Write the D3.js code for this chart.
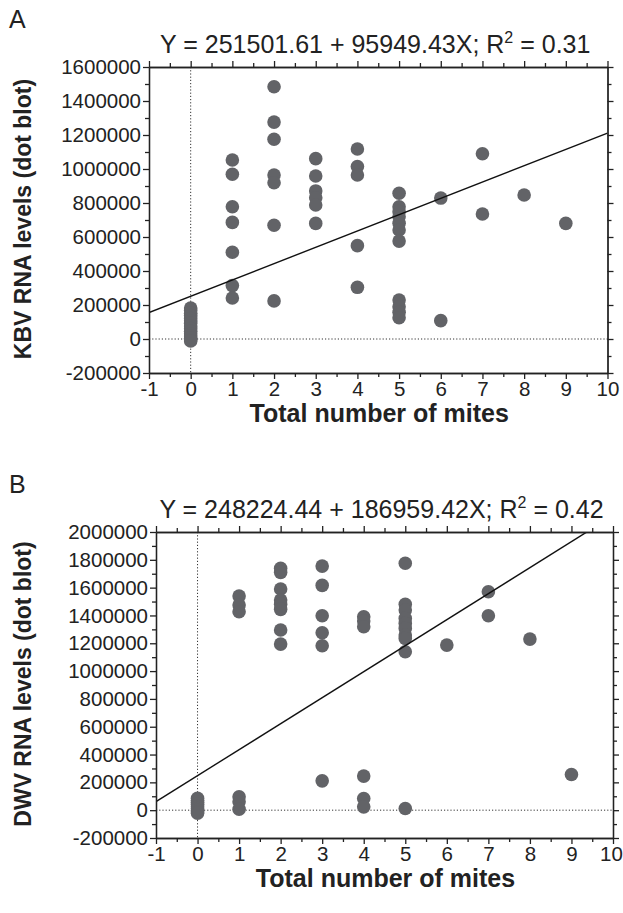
<!DOCTYPE html>
<meta charset="utf-8">
<style>
body { margin: 0; background: #fff; }
svg text { font-family: "Liberation Sans", Arial, sans-serif; fill: #222; }
.frame path, .frame line { stroke: #222; stroke-width: 1.3px; }
</style>
<body>
<script src="https://d3js.org/d3.v7.min.js"></script>
<script>

// panel A - KBV
var kbvMites  = [0,0,0,0,0,0,0,0,0,0,0,0,0,0,0,
                 1,1,1,1,1,1,1,
                 2,2,2,2,2,2,2,
                 3,3,3,3,3,3,
                 4,4,4,4,4,
                 5,5,5,5,5,5,5,5,5,5,5,
                 6,6, 7,7, 8, 9];
var kbvLevels = [182000,168000,152000,138000,121000,107000,92000,76000,61000,46000,31000,17000,5000,-4000,-12000,
                 1053000,969000,778000,686000,510000,314000,241000,
                 1484000,1276000,1175000,965000,919000,669000,224000,
                 1061000,959000,871000,831000,788000,680000,
                 1118000,1015000,965000,549000,304000,
                 857000,778000,749000,719000,681000,641000,576000,229000,190000,157000,125000,
                 829000,108000, 1090000,735000, 847000, 680000];

// panel B - DWV
var dwvMites  = [0,0,0,0,0,0,0,0,0,
                 1,1,1,1,1,1,
                 2,2,2,2,2,2,2,2,
                 3,3,3,3,3,3,
                 4,4,4,4,4,4,
                 5,5,5,5,5,5,5,5,5,5,
                 6, 7,7, 8, 9];
var dwvLevels = [86000,72000,57000,42000,27000,12000,0,-11000,-22000,
                 1540000,1475000,1427000,96000,60000,7000,
                 1739000,1710000,1590000,1511000,1480000,1444000,1295000,1194000,
                 1755000,1616000,1398000,1276000,1182000,211000,
                 1391000,1360000,1319000,245000,84000,24000,
                 1775000,1480000,1439000,1379000,1343000,1307000,1259000,1235000,1139000,12000,
                 1187000, 1570000,1398000, 1230000, 257000];

var xTicks = [-1,0,1,2,3,4,5,6,7,8,9,10];
var xMinor = [-0.5,0.5,1.5,2.5,3.5,4.5,5.5,6.5,7.5,8.5,9.5];
var kbvYTicks = [-200000,0,200000,400000,600000,800000,1000000,1200000,1400000,1600000];
var dwvYTicks = [-200000,0,200000,400000,600000,800000,1000000,1200000,1400000,1600000,1800000,2000000];

var intercepts = [251501.61, 248224.44];
var slopes = [95949.43, 186959.42];
var rSquared = ["0.31", "0.42"];
var panelLetters = ["A", "B"];
var yTitles = ["KBV RNA levels (dot blot)", "DWV RNA levels (dot blot)"];

var svg = d3.select("body").append("svg")
  .attr("width", 623)
  .attr("height", 913);

var panels = [
  {left: 149, right: 607.5, top: 67, bottom: 373, ymax: 1600000, mites: kbvMites, levels: kbvLevels, yTicks: kbvYTicks, offY: 0},
  {left: 156, right: 613, top: 532, bottom: 838, ymax: 2000000, mites: dwvMites, levels: dwvLevels, yTicks: dwvYTicks, offY: 465}
];

// plain hyphen for negatives, like the original
var plain = function(d) { return String(d); };

panels.forEach(function(p, i) {
  var x = d3.scaleLinear().domain([-1, 10]).range([p.left, p.right]);
  var y = d3.scaleLinear().domain([-200000, p.ymax]).range([p.bottom, p.top]);

  var yMinor = d3.range(-100000, p.ymax, 200000);

  var g = svg.append("g");

  // clip for the fit line
  g.append("clipPath").attr("id", "clip" + i)
    .append("rect")
    .attr("x", p.left).attr("y", p.top)
    .attr("width", p.right - p.left).attr("height", p.bottom - p.top);

  // dotted zero lines
  g.append("line")
    .attr("x1", x(0)).attr("x2", x(0))
    .attr("y1", p.top).attr("y2", p.bottom)
    .attr("stroke", "#333").attr("stroke-width", 1)
    .attr("stroke-dasharray", "1.2,2");
  g.append("line")
    .attr("x1", p.left).attr("x2", p.right)
    .attr("y1", y(0)).attr("y2", y(0))
    .attr("stroke", "#333").attr("stroke-width", 1)
    .attr("stroke-dasharray", "1.2,2");

  // points
  g.selectAll("circle.pt")
    .data(p.mites)
    .enter().append("circle")
    .attr("class", "pt")
    .attr("cx", function(d) { return x(d); })
    .attr("cy", function(d, j) { return y(p.levels[j]); })
    .attr("r", 6.8)
    .attr("fill", "#626367");

  // regression line
  g.append("line")
    .attr("clip-path", "url(#clip" + i + ")")
    .attr("x1", x(-1)).attr("y1", y(intercepts[i] - slopes[i]))
    .attr("x2", x(10)).attr("y2", y(intercepts[i] + slopes[i] * 10))
    .attr("stroke", "#111").attr("stroke-width", 1.4);

  // axes: bottom with labels
  var bottom = g.append("g").attr("class", "frame")
    .attr("transform", "translate(0," + p.bottom + ")")
    .call(d3.axisBottom(x).tickValues(xTicks).tickSize(6).tickPadding(2).tickSizeOuter(0).tickFormat(plain));
  bottom.selectAll("text").style("font-size", "20.5px");
  // keep the last label inside the page
  bottom.selectAll("text").filter(function(d) { return d == 10; })
    .attr("dx", -(Math.max(0, p.right + 11 - 622)) + "px");
  g.append("g").attr("class", "frame")
    .attr("transform", "translate(0," + p.bottom + ")")
    .call(d3.axisBottom(x).tickValues(xMinor).tickSize(4).tickFormat("").tickSizeOuter(0));

  // top
  g.append("g").attr("class", "frame")
    .attr("transform", "translate(0," + p.top + ")")
    .call(d3.axisTop(x).tickValues(xTicks).tickSize(6).tickFormat("").tickSizeOuter(0));
  g.append("g").attr("class", "frame")
    .attr("transform", "translate(0," + p.top + ")")
    .call(d3.axisTop(x).tickValues(xMinor).tickSize(4).tickFormat("").tickSizeOuter(0));

  // left with labels
  var left = g.append("g").attr("class", "frame")
    .attr("transform", "translate(" + p.left + ",0)")
    .call(d3.axisLeft(y).tickValues(p.yTicks).tickSize(6).tickPadding(2).tickSizeOuter(0).tickFormat(plain));
  left.selectAll("text").style("font-size", "20.5px");
  g.append("g").attr("class", "frame")
    .attr("transform", "translate(" + p.left + ",0)")
    .call(d3.axisLeft(y).tickValues(yMinor).tickSize(4).tickFormat("").tickSizeOuter(0));

  // right
  g.append("g").attr("class", "frame")
    .attr("transform", "translate(" + p.right + ",0)")
    .call(d3.axisRight(y).tickValues(p.yTicks).tickSize(6).tickFormat("").tickSizeOuter(0));
  g.append("g").attr("class", "frame")
    .attr("transform", "translate(" + p.right + ",0)")
    .call(d3.axisRight(y).tickValues(yMinor).tickSize(4).tickFormat("").tickSizeOuter(0));

  // panel letter
  g.append("text")
    .attr("x", 9).attr("y", 28 + p.offY)
    .style("font-size", "25px")
    .text(panelLetters[i]);

  // equation
  var eq = g.append("text")
    .attr("x", (p.left + p.right) / 2 - 3).attr("y", 53 + p.offY)
    .attr("text-anchor", "middle")
    .style("font-size", "25px");
  eq.append("tspan").text("Y = " + d3.format(".2f")(intercepts[i]) + " + " + d3.format(".2f")(slopes[i]) + "X; R");
  eq.append("tspan").attr("dy", -10).style("font-size", "16px").text("2");
  eq.append("tspan").attr("dy", 10).text(" = " + rSquared[i]);

  // axis titles
  g.append("text")
    .attr("transform", "translate(31," + ((p.top + p.bottom) / 2 - 1) + ") rotate(-90)")
    .attr("text-anchor", "middle")
    .style("font-size", "23px").style("font-weight", "bold")
    .text(yTitles[i]);
  g.append("text")
    .attr("x", (p.left + p.right) / 2 + 1).attr("y", p.bottom + 49)
    .attr("text-anchor", "middle")
    .style("font-size", "25px").style("font-weight", "bold")
    .text("Total number of mites");
});
</script>
</body>
